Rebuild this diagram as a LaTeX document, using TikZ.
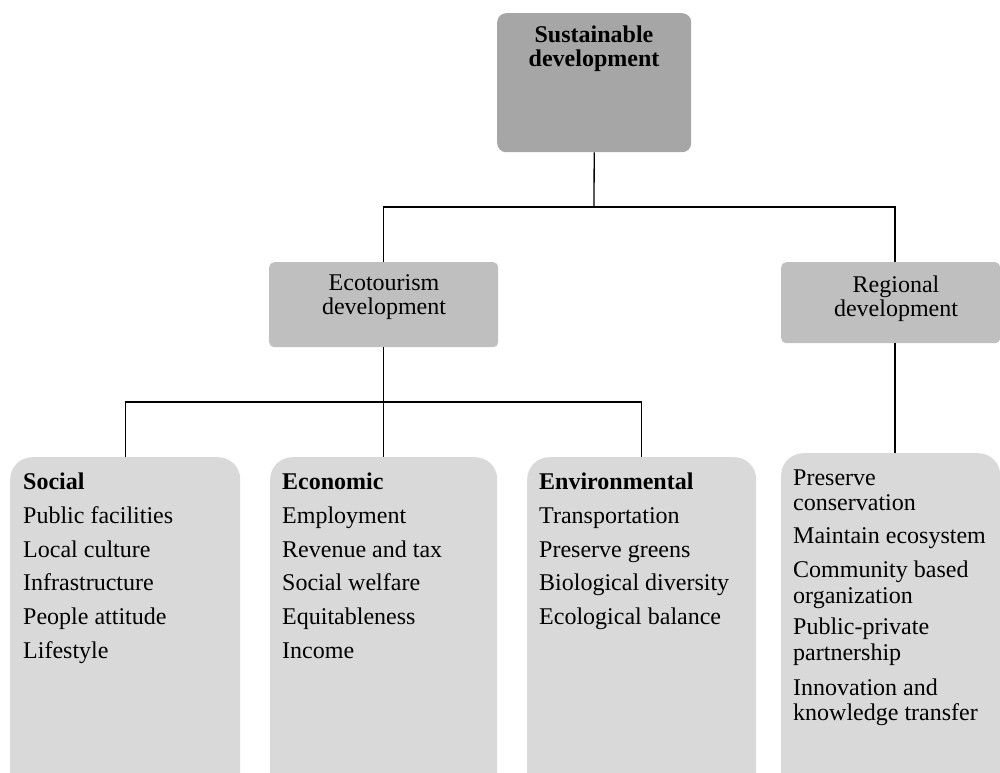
\documentclass[tikz,border=0pt]{standalone}
\usepackage{fontspec}
\setmainfont{Liberation Serif}
\definecolor{gA}{HTML}{A6A6A6}
\definecolor{gB}{HTML}{BFBFBF}
\definecolor{gC}{HTML}{D9D9D9}
\begin{document}
\begin{tikzpicture}[x=1pt,y=-1pt,
  txt/.style={inner sep=0pt, font=\fontsize{24}{24}\selectfont},
  conn/.style={line width=1.3pt, draw=black},
  topbox/.style={fill=gA, rounded corners=9pt, inner sep=0pt, anchor=north west},
  midbox/.style={fill=gB, rounded corners=5pt, inner sep=0pt, anchor=north west},
  listbox/.style={fill=gC, rounded corners=22pt, inner sep=0pt, anchor=north west}]
\useasboundingbox (0,0) rectangle (1000,772);
\clip (0,0) rectangle (1000,772);
% boxes
\node[topbox, minimum width=194pt, minimum height=139pt] (sd) at (497,13) {};
\node[midbox, minimum width=229pt, minimum height=85pt] (eco) at (269,262) {};
\node[midbox, minimum width=219pt, minimum height=81pt] (reg) at (781,262) {};
\node[listbox, minimum width=230pt, minimum height=340pt] (soc) at (10,457) {};
\node[listbox, minimum width=227pt, minimum height=340pt] (econ) at (270,457) {};
\node[listbox, minimum width=229pt, minimum height=340pt] (env) at (527,457) {};
\node[listbox, minimum width=219pt, minimum height=344pt] (regl) at (781,453) {};
% header texts
\node[txt, anchor=base] (sd1) at (594,42) {\textbf{Sustainable}};
\node[txt, anchor=base] (sd2) at (594,66) {\textbf{development}};
\node[txt, anchor=base] (eco1) at (384,290) {Ecotourism};
\node[txt, anchor=base] (eco2) at (384,314) {development};
\node[txt, anchor=base] (reg1) at (896,292) {Regional};
\node[txt, anchor=base] (reg2) at (896,316) {development};
% list texts
\foreach \t/\y [count=\i] in {\textbf{Social}/489, Public facilities/523, Local culture/557, Infrastructure/590, People attitude/624, Lifestyle/658}
  \node[txt, anchor=base west] (so\i) at (23,\y) {\t};
\foreach \t/\y [count=\i] in {\textbf{Economic}/489, Employment/523, Revenue and tax/557, Social welfare/590, Equitableness/624, Income/658}
  \node[txt, anchor=base west] (ec\i) at (282,\y) {\t};
\foreach \t/\y [count=\i] in {\textbf{Environmental}/489, Transportation/523, Preserve greens/557, Biological diversity/590, Ecological balance/624}
  \node[txt, anchor=base west] (en\i) at (539,\y) {\t};
\foreach \t/\y [count=\i] in {Preserve/485, conservation/510, Maintain ecosystem/543, Community based/577, organization/603, Public-private/634, partnership/660, Innovation and/695, knowledge transfer/720}
  \node[txt, anchor=base west] (rl\i) at (793,\y) {\t};
% connectors
\coordinate (h1) at (594,207);
\coordinate (rt) at (895,262);
\coordinate (h2) at (384,402);
\draw[conn] (sd.south) -- (h1);
\draw[conn] (eco.north) |- (h1) -| (reg.north -| rt);
\draw[conn] (eco.south) -- (econ.north);
\draw[conn] (soc.north) |- (h2) -| (env.north);
\draw[conn] (reg.south -| rt) -- (regl.north -| rt);
\end{tikzpicture}
\end{document}
